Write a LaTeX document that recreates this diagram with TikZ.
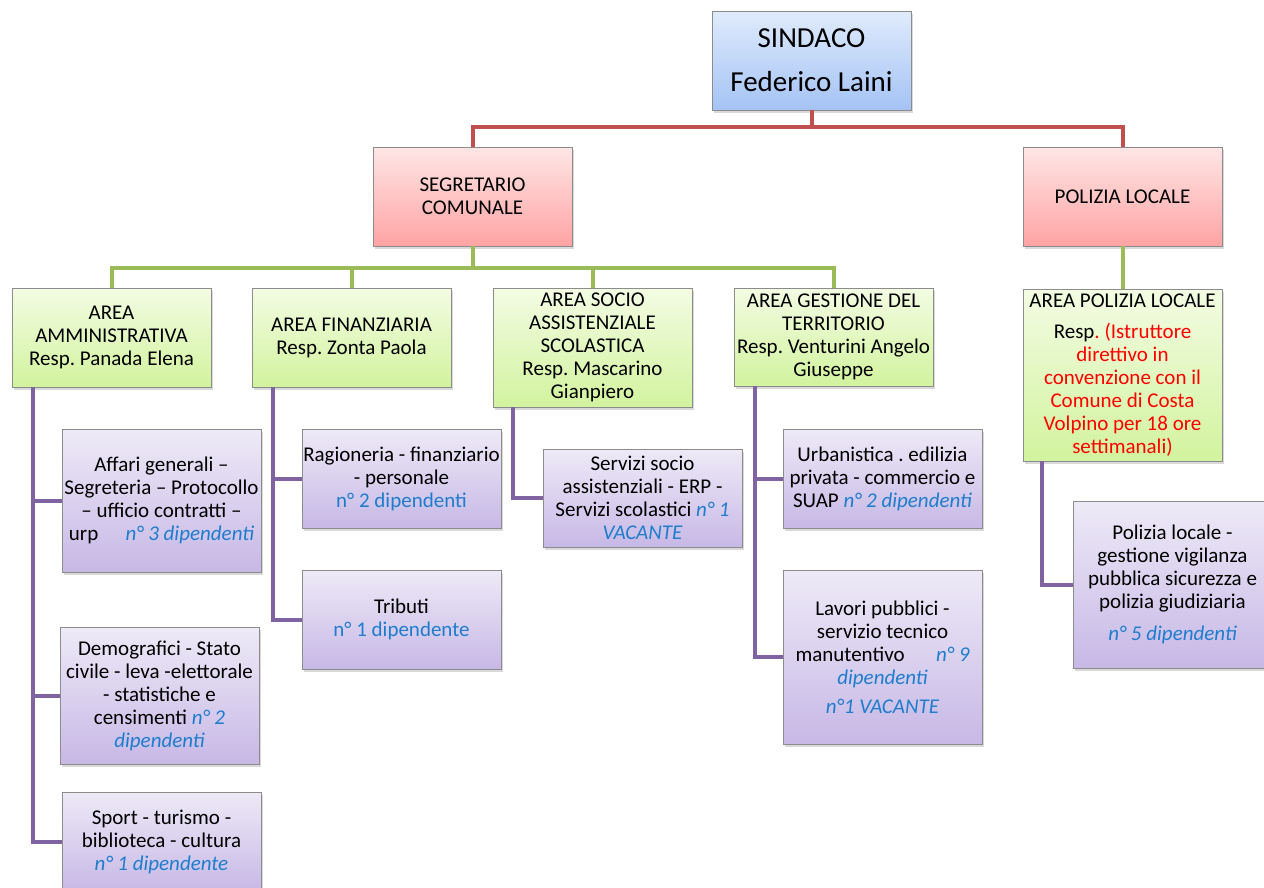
\documentclass[tikz,border=0pt]{standalone}
\usepackage{fontspec}
\setmainfont{Carlito}
\usepackage{xcolor}
\usetikzlibrary{positioning, shadows}
\definecolor{lnred}{RGB}{192,80,77}
\definecolor{lngreen}{RGB}{155,187,89}
\definecolor{lnpurple}{RGB}{128,100,162}
\definecolor{nblue}{RGB}{30,125,205}
\definecolor{nred}{RGB}{255,0,0}
\newcommand{\ndip}[1]{\textcolor{nblue}{\itshape #1}}
\frenchspacing

\begin{document}
\begin{tikzpicture}[
  x=1pt, y=-1pt,
  box/.style={draw=black!45, line width=0.9pt, minimum width=199pt,
              inner sep=0.5pt, outer sep=0pt, align=center,
              font=\fontsize{21}{23}\selectfont,
              drop shadow={shadow xshift=2pt, shadow yshift=-2.5pt, opacity=0.3}},
  bluebox/.style={box, top color={rgb,255:red,224;green,235;blue,252},
                  bottom color={rgb,255:red,164;green,195;blue,245}},
  redbox/.style={box, top color={rgb,255:red,255;green,230;blue,230},
                 bottom color={rgb,255:red,255;green,163;blue,163}},
  greenbox/.style={box, top color={rgb,255:red,243;green,252;blue,227},
                   bottom color={rgb,255:red,210;green,243;blue,158}},
  purplebox/.style={box, top color={rgb,255:red,238;green,234;blue,247},
                    bottom color={rgb,255:red,199;green,184;blue,230}},
  conn/.style={line width=4pt},
  redline/.style={conn, draw=lnred},
  greenline/.style={conn, draw=lngreen},
  purpleline/.style={conn, draw=lnpurple},
]
\useasboundingbox (0,0) rectangle (1264,887);
\clip (0,0) rectangle (1264,887);

%% --- Vertice ---
\node[bluebox, anchor=north west, minimum height=99pt,
      font=\fontsize{29}{44}\selectfont] (sindaco) at (712,11) {SINDACO\\Federico Laini};

\node[redbox, anchor=north west, minimum height=99pt] (segr) at (373,147) {SEGRETARIO\\COMUNALE};
\node[redbox, minimum height=99pt, right=451pt of segr] (pol) {POLIZIA LOCALE};

\draw[redline] (sindaco.south) -- ++(0,17) -| (segr.north);
\draw[redline] (sindaco.south) -- ++(0,17) -| (pol.north);

%% --- Aree ---
\node[greenbox, anchor=north west, minimum height=99pt] (amm) at (12,288)
  {AREA\\AMMINISTRATIVA\\Resp. Panada Elena};
\node[greenbox, minimum height=99pt, right=41pt of amm] (fin)
  {AREA FINANZIARIA\\Resp. Zonta Paola};
\node[greenbox, minimum height=119pt, right=42pt of fin.north east, anchor=north west] (socio)
  {AREA SOCIO\\ASSISTENZIALE\\SCOLASTICA\\Resp. Mascarino\\Gianpiero};
\node[greenbox, minimum height=98pt, right=42pt of socio.north east, anchor=north west] (gest)
  {AREA GESTIONE DEL\\TERRITORIO\\Resp. Venturini Angelo\\Giuseppe};
\node[greenbox, minimum height=172pt, below=43pt of pol] (apl)
  {AREA POLIZIA LOCALE\\[8pt]Resp\textcolor{nred}{. (Istruttore}\\\textcolor{nred}{direttivo in}\\
   \textcolor{nred}{convenzione con il}\\\textcolor{nred}{Comune di Costa}\\
   \textcolor{nred}{Volpino per 18 ore}\\\textcolor{nred}{settimanali)}};

\draw[greenline] (segr.south) -- ++(0,22) -| (amm.north);
\draw[greenline] (segr.south) -- ++(0,22) -| (fin.north);
\draw[greenline] (segr.south) -- ++(0,22) -| (socio.north);
\draw[greenline] (segr.south) -- ++(0,22) -| (gest.north);
\draw[greenline] (pol.south) -- (apl.north);

%% --- Uffici ---
\node[purplebox, minimum height=143pt, below right=42pt and 50pt of amm.south west] (affari)
  {Affari generali --\\Segreteria -- Protocollo\\-- ufficio contratti --\\urp\hspace{1.3em}\ndip{n° 3 dipendenti}};
\node[purplebox, minimum height=137pt, below=55pt of affari, xshift=-2pt] (demo)
  {Demografici - Stato\\civile - leva -elettorale\\- statistiche e\\censimenti \ndip{n° 2}\\\ndip{dipendenti}};
\node[purplebox, minimum height=99pt, below=28pt of demo, xshift=2pt] (sport)
  {Sport - turismo -\\biblioteca - cultura\\\ndip{n° 1 dipendente}};

\node[purplebox, minimum height=99pt, below right=42pt and 50pt of fin.south west] (ragio)
  {Ragioneria - finanziario\\- personale\\\textcolor{nblue}{n° 2 dipendenti}};
\node[purplebox, minimum height=99pt, below=42pt of ragio] (tributi)
  {Tributi\\\textcolor{nblue}{n° 1 dipendente}};

\node[purplebox, minimum height=98pt, below right=42pt and 50pt of socio.south west] (servizi)
  {Servizi socio\\assistenziali - ERP -\\Servizi scolastici \ndip{n° 1}\\\ndip{VACANTE}};

\node[purplebox, minimum height=99pt, below right=43pt and 49pt of gest.south west] (urban)
  {Urbanistica . edilizia\\privata - commercio e\\SUAP \ndip{n° 2 dipendenti}};
\node[purplebox, minimum height=174pt, below=42pt of urban] (lavori)
  {Lavori pubblici -\\servizio tecnico\\manutentivo\hspace{1.5em}\ndip{n° 9}\\\ndip{dipendenti}\\[6pt]\ndip{n°1 VACANTE}};

\node[purplebox, minimum height=167pt, below right=40pt and 50pt of apl.south west] (polloc)
  {Polizia locale -\\gestione vigilanza\\pubblica sicurezza e\\polizia giudiziaria\\[9pt]\ndip{n° 5 dipendenti}};

\draw[purpleline] ([xshift=21pt]amm.south west) |- (affari.west);
\draw[purpleline] ([xshift=21pt]amm.south west) |- (demo.west);
\draw[purpleline] ([xshift=21pt]amm.south west) |- (sport.west);
\draw[purpleline] ([xshift=21pt]fin.south west) |- (ragio.west);
\draw[purpleline] ([xshift=21pt]fin.south west) |- (tributi.west);
\draw[purpleline] ([xshift=20pt]socio.south west) |- (servizi.west);
\draw[purpleline] ([xshift=21pt]gest.south west) |- (urban.west);
\draw[purpleline] ([xshift=21pt]gest.south west) |- (lavori.west);
\draw[purpleline] ([xshift=19pt]apl.south west) |- (polloc.west);

\end{tikzpicture}
\end{document}
